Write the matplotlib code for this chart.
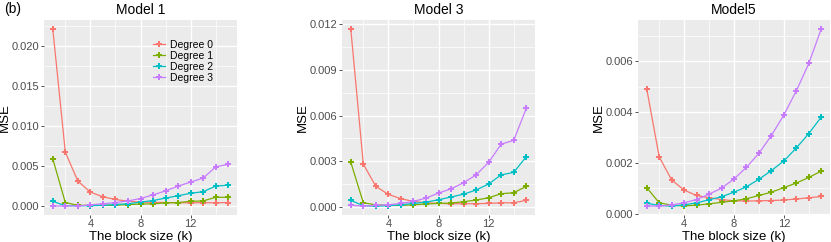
import matplotlib.pyplot as plt
from matplotlib.ticker import MultipleLocator

plt.rcParams['font.family'] = ['Liberation Sans', 'DejaVu Sans']

k = list(range(1, 16))
labels = ["Degree 0", "Degree 1", "Degree 2", "Degree 3"]
colors = ["#F8766D", "#7CAE00", "#00BFC4", "#C77CFF"]

m1_d0 = [0.0221, 0.00674, 0.00312, 0.00175, 0.00116, 0.00083, 0.00062, 0.0005,
         0.00048, 0.00045, 0.00042, 0.00042, 0.00043, 0.00042, 0.00045]
m1_d1 = [0.0059, 0.00045, 0.0001, 0.0001, 0.0001, 0.0001, 0.0002, 0.00025,
         0.0003, 0.0004, 0.00045, 0.0006, 0.00065, 0.0011, 0.0011]
m1_d2 = [0.0006, 0.00005, 0.00005, 0.00005, 0.0001, 0.0002, 0.0003, 0.0005,
         0.0007, 0.001, 0.0013, 0.0016, 0.0018, 0.0025, 0.0026]
m1_d3 = [0.0, 0.00003, 0.00003, 0.00015, 0.0003, 0.00045, 0.00065, 0.00095,
         0.0014, 0.0019, 0.0025, 0.003, 0.0035, 0.0049, 0.0052]

m3_d0 = [0.01171, 0.00281, 0.00134, 0.00081, 0.00053, 0.00035, 0.00026, 0.00022,
         0.0002, 0.0002, 0.0002, 0.00022, 0.00026, 0.00026, 0.00042]
m3_d1 = [0.00294, 0.00026, 0.00013, 0.00009, 0.00009, 0.00013, 0.00018, 0.00022,
         0.00024, 0.00033, 0.00044, 0.00059, 0.00086, 0.00092, 0.00134]
m3_d2 = [0.00042, 0.00007, 0.00004, 0.00007, 0.00013, 0.00022, 0.0003, 0.00046,
         0.00064, 0.00083, 0.0011, 0.0015, 0.0021, 0.00226, 0.00329]
m3_d3 = [0.0001, 0.00004, 0.00009, 0.00013, 0.00022, 0.00035, 0.00057, 0.0009,
         0.00118, 0.00158, 0.0021, 0.00292, 0.00412, 0.00437, 0.00647]

m5_d0 = [0.00491, 0.00223, 0.00132, 0.00092, 0.00071, 0.00062, 0.00055, 0.0005,
         0.00049, 0.0005, 0.00051, 0.00053, 0.00057, 0.00062, 0.00067]
m5_d1 = [0.00102, 0.00042, 0.00033, 0.0003, 0.00033, 0.00038, 0.00044, 0.0005,
         0.00058, 0.00071, 0.00084, 0.00102, 0.0012, 0.00142, 0.00167]
m5_d2 = [0.0004, 0.00032, 0.00029, 0.00034, 0.00042, 0.00054, 0.00066, 0.00084,
         0.00105, 0.00135, 0.00169, 0.00207, 0.00258, 0.00315, 0.0038]
m5_d3 = [0.0003, 0.00029, 0.00034, 0.00042, 0.00055, 0.00076, 0.001, 0.00136,
         0.00182, 0.00237, 0.00307, 0.00388, 0.00483, 0.00591, 0.00727]

panels = [
    ("Model 1", [m1_d0, m1_d1, m1_d2, m1_d3], 0.005, [0.0, 0.005, 0.010, 0.015, 0.020]),
    ("Model 3", [m3_d0, m3_d1, m3_d2, m3_d3], 0.003, [0.0, 0.003, 0.006, 0.009, 0.012]),
    ("Model5", [m5_d0, m5_d1, m5_d2, m5_d3], 0.002, [0.0, 0.002, 0.004, 0.006]),
]

W, H = 831, 242
fig = plt.figure(figsize=(W / 100, H / 100), dpi=100)
boxes = [(44, 237), (342, 535), (638, 830)]
top, bottom = 20, 215

for (x0, x1), (title, series, step, yt) in zip(boxes, panels):
    ax = fig.add_axes([x0 / W, 1 - bottom / H, (x1 - x0) / W, (bottom - top) / H])
    ax.set_facecolor("#EBEBEB")
    for s in ax.spines.values():
        s.set_visible(False)
    for vals, lab, c in zip(series, labels, colors):
        ax.plot(k, vals, color=c, lw=0.9, marker="P", ms=3.8, mew=0, label=lab)
    allv = [v for s in series for v in s]
    lo, hi = min(allv), max(allv)
    pad = (hi - lo) * 0.05
    ax.set_ylim(lo - pad, hi + pad)
    ax.set_xlim(0.3, 15.7)
    ax.set_xticks([4, 8, 12])
    ax.set_yticks(yt)
    ax.set_yticklabels(["{:.3f}".format(v) for v in yt])
    ax.xaxis.set_minor_locator(MultipleLocator(2))
    ax.yaxis.set_minor_locator(MultipleLocator(step / 2))
    ax.grid(which="major", color="white", lw=1.0)
    ax.grid(which="minor", color="white", lw=0.5)
    ax.set_axisbelow(True)
    ax.tick_params(which="major", colors="#333333", labelcolor="#4D4D4D",
                   labelsize=8, length=2.2, width=0.6, pad=1)
    ax.tick_params(which="minor", length=0)
    ax.set_title(title, fontsize=10, pad=4)
    ax.set_xlabel("The block size (k)", fontsize=9.5, labelpad=1)
    ax.set_ylabel("MSE", fontsize=9.5, labelpad=1)
    if title == "Model 1":
        # first panel sits close to the left edge, pull the label in
        ax.yaxis.set_label_coords(-33 / (x1 - x0), 0.5)
        ax.legend(loc="upper right", bbox_to_anchor=(0.91, 0.93), fontsize=7.5,
                  frameon=False, handlelength=1.2, labelspacing=0.1,
                  handletextpad=0.5, borderaxespad=0.2)

fig.text(4 / W, 1 - 9 / H, "(b)", fontsize=10, va="center", ha="left")
fig.savefig("out.png", dpi=100)
